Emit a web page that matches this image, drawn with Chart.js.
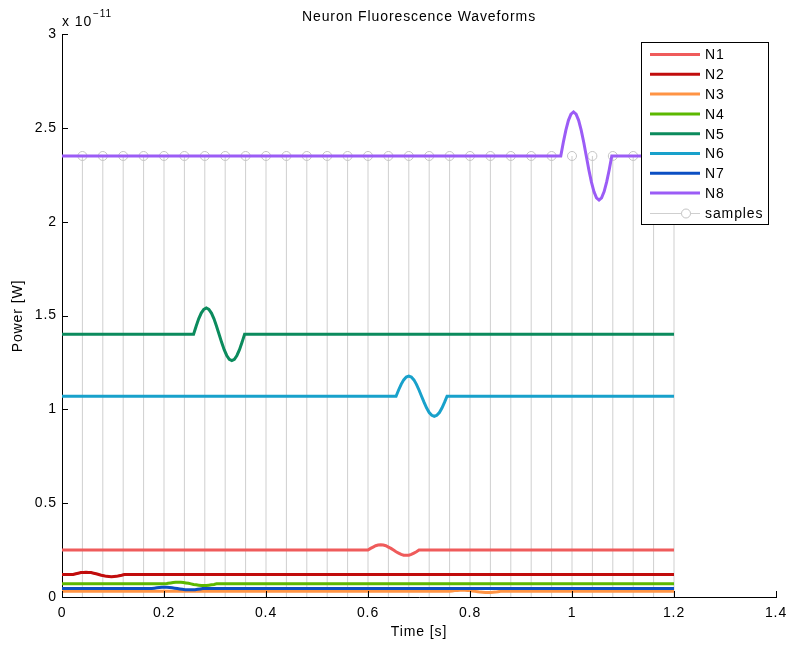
<!DOCTYPE html>
<html>
<head>
<meta charset="utf-8">
<script src="https://cdn.jsdelivr.net/npm/chart.js@4.4.1/dist/chart.umd.min.js"></script>
<style>
html,body{margin:0;padding:0;background:#fff;}
#wrap{width:790px;height:646px;}
</style>
</head>
<body>
<div id="wrap"><canvas id="c" width="790" height="646"></canvas></div>
<script>
// ---- data (power in units of 1e-11 W) ----
const neuronNames = ['N1','N2','N3','N4','N5','N6','N7','N8'];
const neuronColors = ['#ef5b5b','#c10c0c','#ff9444','#5cb800','#0b8b5d','#18a1cb','#0b4fc3','#9b5cf6'];
const tStart = 0;
const tEnd = 1.2;
const bumpStep = 0.005;
const onsets = [0.600, 0.022, 0.760, 0.203, 0.258, 0.655, 0.176, 0.978];
const n1 = [0.25,0.259,0.266,0.273,0.277,0.278,0.277,0.273,0.266,0.259,0.25,0.241,0.234,0.227,0.223,0.222,0.223,0.227,0.234,0.241,0.25];
const n2 = [0.12,0.124,0.127,0.13,0.131,0.132,0.131,0.13,0.127,0.124,0.12,0.116,0.113,0.11,0.109,0.108,0.109,0.11,0.113,0.116,0.12];
const n3 = [0.03,0.032,0.034,0.035,0.036,0.036,0.036,0.035,0.034,0.032,0.03,0.028,0.026,0.025,0.024,0.024,0.024,0.025,0.026,0.028,0.03];
const n4 = [0.07,0.073,0.075,0.077,0.079,0.079,0.079,0.077,0.075,0.073,0.07,0.067,0.065,0.063,0.061,0.061,0.061,0.063,0.065,0.067,0.07];
const n5 = [1.4,1.443,1.482,1.513,1.533,1.54,1.533,1.513,1.482,1.443,1.4,1.357,1.318,1.287,1.267,1.26,1.267,1.287,1.318,1.357,1.4];
const n6 = [1.07,1.103,1.133,1.157,1.172,1.177,1.172,1.157,1.133,1.103,1.07,1.037,1.007,0.983,0.968,0.963,0.968,0.983,1.007,1.037,1.07];
const n7 = [0.045,0.047,0.049,0.051,0.052,0.052,0.052,0.051,0.049,0.047,0.045,0.043,0.041,0.039,0.038,0.038,0.038,0.039,0.041,0.043,0.045];
const n8 = [2.35,2.423,2.488,2.54,2.573,2.585,2.573,2.54,2.488,2.423,2.35,2.277,2.212,2.16,2.127,2.115,2.127,2.16,2.212,2.277,2.35];
const sampleTimes = [0.04,0.08,0.12,0.16,0.2,0.24,0.28,0.32,0.36,0.4,0.44,0.48,0.52,0.56,0.6,0.64,0.68,0.72,0.76,0.8,0.84,0.88,0.92,0.96,1.0,1.04,1.08,1.12,1.16,1.2];
const sampleLevel = 2.35;
const xTicks = [0,0.2,0.4,0.6,0.8,1,1.2,1.4];
const xTickLabels = ['0','0.2','0.4','0.6','0.8','1','1.2','1.4'];
const yTicks = [0,0.5,1,1.5,2,2.5,3];
const yTickLabels = ['0','0.5','1','1.5','2','2.5','3'];

const FONT = 'Liberation Sans, Arial, Helvetica, sans-serif';
const FSIZE = 14;
const SPACING = '0.9px';
const neuronBumps = [n1,n2,n3,n4,n5,n6,n7,n8];

const datasets = [];
neuronBumps.forEach((vals, i) => {
  const pts = [{x: tStart, y: vals[0]}];
  vals.forEach((v, k) => pts.push({x: onsets[i] + k * bumpStep, y: v}));
  pts.push({x: tEnd, y: vals[vals.length - 1]});
  datasets.push({
    label: neuronNames[i], data: pts, borderColor: neuronColors[i], backgroundColor: neuronColors[i],
    borderWidth: 3, pointRadius: 0, tension: 0, order: 8 - i, fill: false
  });
});
const stemPts = [];
sampleTimes.forEach(t => { stemPts.push({x:t,y:0}); stemPts.push({x:t,y:sampleLevel}); stemPts.push({x:t,y:null}); });
datasets.push({label:'samples', data: stemPts, borderColor:'#cfcfcf', borderWidth:1, pointRadius:0, spanGaps:false, order: 20});
datasets.push({label:'samples-markers', data: sampleTimes.map(t => ({x:t,y:sampleLevel})), showLine:false,
  pointRadius:4.5, pointBorderColor:'#c4c4c4', pointBackgroundColor:'rgba(0,0,0,0)', pointBorderWidth:1, order: 19});

const spacingPlugin = {
  id: 'spacing',
  beforeDraw(chart) { try { chart.ctx.letterSpacing = SPACING; } catch (e) {} }
};

const decor = {
  id: 'decor',
  afterDraw(chart) {
    const ctx = chart.ctx, ca = chart.chartArea;
    const xs = chart.scales.x, ys = chart.scales.y;
    ctx.save();
    try { ctx.letterSpacing = SPACING; } catch (e) {}
    // inward ticks
    ctx.strokeStyle = '#000'; ctx.lineWidth = 1;
    xTicks.forEach(v => { const px = Math.round(xs.getPixelForValue(v)) + 0.5; ctx.beginPath(); ctx.moveTo(px, ca.bottom); ctx.lineTo(px, ca.bottom - 6); ctx.stroke(); });
    yTicks.forEach(v => { const py = Math.round(ys.getPixelForValue(v)) + 0.5; ctx.beginPath(); ctx.moveTo(ca.left, py); ctx.lineTo(ca.left + 6, py); ctx.stroke(); });
    // title & axis titles
    ctx.fillStyle = '#000';
    ctx.font = FSIZE + 'px ' + FONT; ctx.textAlign = 'center'; ctx.textBaseline = 'middle';
    ctx.fillText('Neuron Fluorescence Waveforms', (ca.left + ca.right) / 2, 17);
    ctx.fillText('Time [s]', (ca.left + ca.right) / 2, 632);
    ctx.save(); ctx.translate(18, 316); ctx.rotate(-Math.PI / 2); ctx.fillText('Power [W]', 0, 0); ctx.restore();
    // exponent
    ctx.textAlign = 'left';
    ctx.fillText('x 10', 62, 22);
    ctx.font = '10px ' + FONT; ctx.fillText('\u221211', 93, 14);
    // legend
    const lx = 641.5, ly = 42.5, lw = 127, lh = 182;
    ctx.fillStyle = '#fff'; ctx.fillRect(lx, ly, lw, lh);
    ctx.strokeStyle = '#000'; ctx.lineWidth = 1; ctx.strokeRect(lx, ly, lw, lh);
    ctx.font = FSIZE + 'px ' + FONT; ctx.textBaseline = 'middle'; ctx.textAlign = 'left';
    const labels = chart.data.datasets.filter(d => d.label !== 'samples-markers');
    labels.forEach((d, i) => {
      const y = 54.5 + i * 19.8;
      if (d.label === 'samples') {
        ctx.strokeStyle = '#cfcfcf'; ctx.lineWidth = 1;
        ctx.beginPath(); ctx.moveTo(650, Math.round(y) + 0.5); ctx.lineTo(700, Math.round(y) + 0.5); ctx.stroke();
        ctx.fillStyle = '#fff'; ctx.strokeStyle = '#c4c4c4';
        ctx.beginPath(); ctx.arc(686, Math.round(y) + 0.5, 4.5, 0, Math.PI * 2); ctx.fill(); ctx.stroke();
      } else {
        ctx.strokeStyle = d.borderColor; ctx.lineWidth = 3;
        ctx.beginPath(); ctx.moveTo(650, y); ctx.lineTo(700, y); ctx.stroke();
      }
      ctx.fillStyle = '#000';
      ctx.fillText(d.label, 705, y + 1);
    });
    ctx.restore();
  }
};

new Chart(document.getElementById('c'), {
  type: 'line',
  data: { datasets },
  options: {
    responsive: false, animation: false, devicePixelRatio: 1,
    layout: { padding: { left: 0, top: 34, right: 14, bottom: 0 } },
    plugins: { legend: { display: false }, tooltip: { enabled: false }, title: { display: false } },
    scales: {
      x: {
        type: 'linear', min: 0, max: 1.4,
        afterFit: s => { s.height = 49; s.paddingLeft = 0; s.paddingRight = 0; },
        afterBuildTicks: s => { s.ticks = xTicks.map(v => ({ value: v })); },
        grid: { display: false, drawTicks: false },
        border: { display: true, color: '#000', width: 1 },
        ticks: { color: '#000', font: { family: FONT, size: FSIZE }, padding: 8, maxRotation: 0, autoSkip: false,
          callback: (v) => { const i = xTicks.indexOf(v); return i >= 0 ? xTickLabels[i] : ''; } }
      },
      y: {
        type: 'linear', min: 0, max: 3,
        afterFit: s => { s.width = 62; s.paddingTop = 0; s.paddingBottom = 0; },
        afterBuildTicks: s => { s.ticks = yTicks.map(v => ({ value: v })); },
        grid: { display: false, drawTicks: false },
        border: { display: true, color: '#000', width: 1 },
        ticks: { color: '#000', font: { family: FONT, size: FSIZE }, padding: 5, autoSkip: false,
          callback: (v) => { const i = yTicks.indexOf(v); return i >= 0 ? yTickLabels[i] : ''; } }
      }
    }
  },
  plugins: [spacingPlugin, decor]
});
</script>
</body>
</html>
